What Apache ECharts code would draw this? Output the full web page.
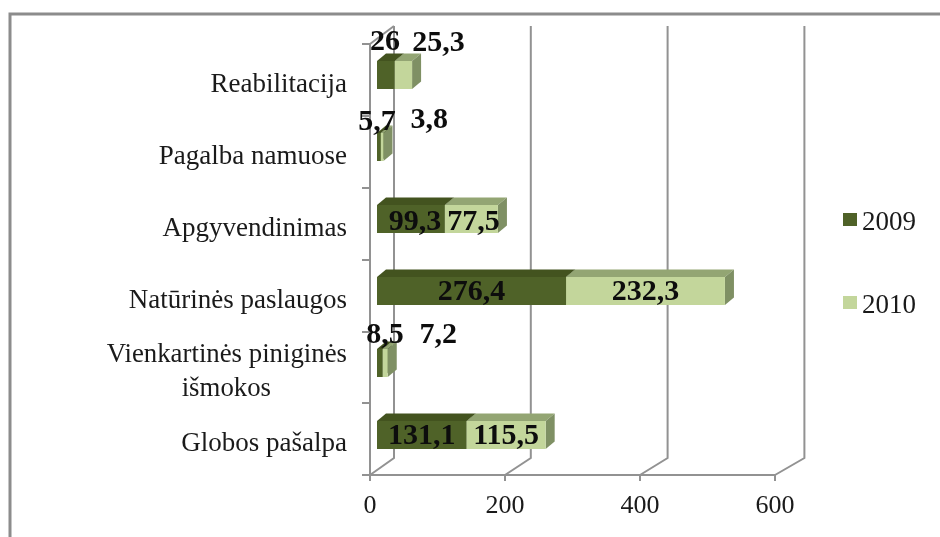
<!DOCTYPE html>
<html><head><meta charset="utf-8">
<script src="https://cdn.jsdelivr.net/npm/echarts@6/dist/echarts.min.js"></script>
<style>html,body{margin:0;padding:0;background:#fff}#c{width:940px;height:537px}</style>
</head><body><div id="c"></div>
<script>
const categories = ['Globos pašalpa','Vienkartinės piniginės išmokos','Natūrinės paslaugos','Apgyvendinimas','Pagalba namuose','Reabilitacija'];
const years = ['2009','2010'];
const values2009 = [131.1, 8.5, 276.4, 99.3, 5.7, 26];
const values2010 = [115.5, 7.2, 232.3, 77.5, 3.8, 25.3];
const axisTicks = [0, 200, 400, 600];

// layout and style constants
const FONT = '"Liberation Serif","Times New Roman",serif';
const front = {left:370, width:405, top:44, height:431};
const bars  = {left:377, width:410.4, top:39, height:432};
const back  = {left:394, width:410.4, top:26, height:432};
const BAR_H = 28, DX = 9, DY = 7.5;
const GRID = '#929292';
const palette = {
  2009:{front:'#4f6228', top:'#43531f', side:'#3f4e20'},
  2010:{front:'#c3d69b', top:'#93a573', side:'#7f9064'}
};
// Data labels that do not fit inside their bars are placed above them: [dx, dy] from the segment centre
const outsideLabel = {
  '1_0':[5,-28], '1_1':[53,-28],
  '4_0':[-2,-25],'4_1':[47,-27],
  '5_0':[-1,-33],'5_1':[35,-32]
};
const insideLabel = {'3_0':[4,3],'3_1':[2,3]};

function barRender(year, starts){
  const c = palette[year];
  return function(params, api){
    const i = api.value(1), v = api.value(0), s = starts[i];
    const p0 = api.coord([s, i]), p1 = api.coord([s + v, i]);
    const x0 = p0[0], x1 = p1[0], yT = p0[1] - BAR_H/2, yB = p0[1] + BAR_H/2;
    return {type:'group', children:[
      {type:'polygon', shape:{points:[[x0,yT],[x0+DX,yT-DY],[x1+DX,yT-DY],[x1,yT]]}, style:{fill:c.top}},
      {type:'polygon', shape:{points:[[x1,yT],[x1+DX,yT-DY],[x1+DX,yB-DY],[x1,yB]]}, style:{fill:c.side}},
      {type:'rect', shape:{x:x0,y:yT,width:x1-x0,height:BAR_H}, style:{fill:c.front}}
    ]};
  };
}
const zeros = categories.map(() => 0);
const labelData = [];
categories.forEach((_, i) => {
  labelData.push([values2009[i], i, 0, 0]);
  labelData.push([values2010[i], i, values2009[i], 1]);
});
const option = {
  backgroundColor:'#fff',
  animation:false,
  textStyle:{fontFamily:FONT},
  grid:[
    {left:front.left, width:front.width, top:front.top, height:front.height},
    {left:bars.left, width:bars.width, top:bars.top, height:bars.height},
    {left:back.left, width:back.width, top:back.top, height:back.height}
  ],
  xAxis:[
    {gridIndex:0, type:'value', min:0, max:600, interval:200, splitLine:{show:false},
     axisLine:{show:true, lineStyle:{color:GRID, width:2}},
     axisTick:{show:true, length:6, lineStyle:{color:GRID, width:2}},
     axisLabel:{color:'#1a1a1a', fontFamily:FONT, fontSize:26, margin:18, hideOverlap:false}},
    {gridIndex:1, type:'value', min:0, max:600, interval:200, show:false},
    {gridIndex:2, type:'value', min:0, max:600, interval:200, show:false}
  ],
  yAxis:[
    {gridIndex:0, type:'category', data:categories,
     axisLine:{show:true, lineStyle:{color:GRID, width:2}},
     axisTick:{show:true, length:8, lineStyle:{color:GRID, width:2}},
     axisLabel:{color:'#1a1a1a', fontFamily:FONT, fontSize:27, margin:23, interval:0, lineHeight:34,
       padding:[10,0,0,0],
       formatter:function(t){
         if(t === categories[1]) return '{a|Vienkartinės piniginės}\n{b|išmokos}';
         return t;
       },
       rich:{a:{fontFamily:FONT,fontSize:26.8,color:'#1a1a1a',lineHeight:34},
             b:{fontFamily:FONT,fontSize:26.8,color:'#1a1a1a',lineHeight:34,padding:[0,76,0,0]}}}},
    {gridIndex:1, type:'category', data:categories, show:false},
    {gridIndex:2, type:'category', data:categories, show:false}
  ],
  legend:{
    data:years, orient:'vertical', left:838, top:204, itemWidth:14, itemHeight:13, itemGap:56,
    selectedMode:false, icon:'rect',
    formatter:'{t|{name}}',
    textStyle:{fontFamily:FONT, fontSize:27, color:'#1a1a1a',
      rich:{t:{fontFamily:FONT, fontSize:27, color:'#1a1a1a', padding:[6,0,0,0]}}}
  },
  series:[
    {name:'backWall', type:'custom', xAxisIndex:2, yAxisIndex:2, silent:true, z:1,
     data:axisTicks.map(t=>[t,0]),
     renderItem:function(params, api){
       const v = api.value(0);
       const x = api.coord([v,0])[0];
       const fx = front.left + v*front.width/600, fy = front.top + front.height;
       const ls = {stroke:GRID, lineWidth:2, fill:null};
       const kids = [
         {type:'polyline', shape:{points:[[fx,fy],[x,back.top+back.height],[x,back.top]]}, style:ls}
       ];
       if(v === 0) kids.push({type:'line', shape:{x1:front.left,y1:front.top,x2:x,y2:back.top}, style:ls});
       return {type:'group', children:kids};
     }},
    {name:'2009', type:'custom', xAxisIndex:1, yAxisIndex:1, z:3,
     itemStyle:{color:palette[2009].front},
     data:categories.map((_,i)=>[values2009[i], i]),
     renderItem:barRender(2009, zeros)},
    {name:'2010', type:'custom', xAxisIndex:1, yAxisIndex:1, z:4,
     itemStyle:{color:palette[2010].front},
     data:categories.map((_,i)=>[values2010[i], i]),
     renderItem:barRender(2010, values2009)},
    {name:'labels', type:'custom', xAxisIndex:1, yAxisIndex:1, z:5, silent:true,
     data:labelData,
     renderItem:function(params, api){
       const v = api.value(0), i = api.value(1), s = api.value(2), k = api.value(3);
       const c = api.coord([s + v/2, i]);
       const off = outsideLabel[i+'_'+k] || insideLabel[i+'_'+k] || [0,1];
       return {type:'text', style:{
         text:String(v).replace('.',','), x:c[0]+off[0], y:c[1]+off[1],
         align:'center', verticalAlign:'middle',
         font:'bold 30px '+FONT, fill:'#0d0d0d'
       }};
     }}
  ],
  graphic:[
    {type:'polyline', silent:true, shape:{points:[[10,537],[10,14],[940,14]]},
     style:{stroke:'#8c8c8c', lineWidth:3, fill:null}}
  ]
};
echarts.init(document.getElementById('c'),null,{renderer:'canvas'}).setOption(option);
</script></body></html>
